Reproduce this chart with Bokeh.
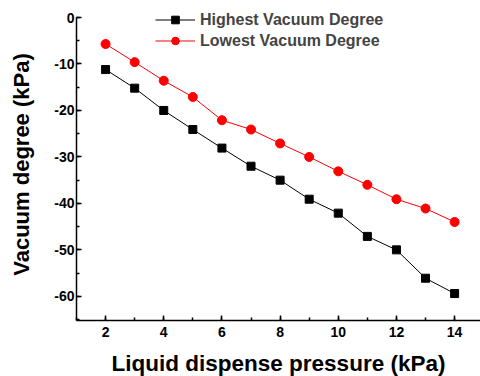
from bokeh.plotting import figure
from bokeh.models import (ColumnDataSource, SingleIntervalTicker, Legend, LegendItem,
                          Range1d, PrintfTickFormatter)
from bokeh.embed import file_html
from bokeh.resources import INLINE

pressure = [2, 3, 4, 5, 6, 7, 8, 9, 10, 11, 12, 13, 14]
highest = [-11.2, -15.2, -20.0, -24.1, -28.1, -32.0, -35.0, -39.1, -42.1, -47.1, -50.0, -56.1, -59.4]
lowest = [-5.7, -9.6, -13.6, -17.1, -22.1, -24.1, -27.1, -30.0, -33.1, -36.0, -39.1, -41.1, -44.0]
series_names = ["Highest Vacuum Degree", "Lowest Vacuum Degree"]
x_title = "Liquid dispense pressure (kPa)"
y_title = "Vacuum degree (kPa)"

src = ColumnDataSource(dict(x=pressure, hi=highest, lo=lowest))

FONT = "Liberation Sans"

p = figure(frame_width=404, frame_height=312, output_backend="svg", toolbar_location=None,
           x_range=Range1d(1, 14.89), y_range=Range1d(-65.2, 1.94),
           min_border_left=76, min_border_top=8, min_border_right=0, min_border_bottom=10)
p.outline_line_color = None
p.xgrid.visible = False
p.ygrid.visible = False

l1 = p.line("x", "hi", source=src, line_color="black", line_width=1)
m1 = p.scatter("x", "hi", source=src, marker="square", size=8, fill_color="black", line_color="black")
l2 = p.line("x", "lo", source=src, line_color="#ff0000", line_width=1)
m2 = p.scatter("x", "lo", source=src, marker="circle", size=9, fill_color="#ff0000", line_color="#ff0000")

for ax in (p.xaxis[0], p.yaxis[0]):
    ax.axis_line_width = 1.5
    ax.major_tick_in = 5
    ax.major_tick_out = 0
    ax.minor_tick_in = 3
    ax.minor_tick_out = 0
    ax.major_tick_line_width = 1.5
    ax.minor_tick_line_width = 1.5
    ax.major_label_text_font = FONT
    ax.major_label_text_font_style = "bold"
    ax.major_label_text_font_size = "14px"
    ax.major_label_text_color = "black"
    ax.axis_label_text_font = FONT
    ax.axis_label_text_font_style = "bold"
    ax.axis_label_text_color = "black"
    ax.formatter = PrintfTickFormatter(format="%d")

p.yaxis[0].bounds = (-65.2, 0)
p.xaxis[0].axis_label_text_font_size = "22.5px"
p.yaxis[0].axis_label_text_font_size = "22px"
p.xaxis[0].ticker = SingleIntervalTicker(interval=2, num_minor_ticks=2)
p.yaxis[0].ticker = SingleIntervalTicker(interval=10, num_minor_ticks=2)
p.xaxis[0].axis_label = x_title
p.yaxis[0].axis_label = y_title
p.xaxis[0].major_label_standoff = 6
p.yaxis[0].major_label_standoff = 2
p.xaxis[0].axis_label_standoff = 11
p.yaxis[0].axis_label_standoff = 17

legend = Legend(items=[LegendItem(label=series_names[0], renderers=[l1, m1]),
                       LegendItem(label=series_names[1], renderers=[l2, m2])],
                location=(79, 270), border_line_color=None, background_fill_alpha=0,
                padding=0, margin=0, spacing=2, glyph_width=40, glyph_height=19,
                label_height=19, label_standoff=5,
                label_text_font=FONT, label_text_font_style="bold", label_text_font_size="16px")
p.add_layout(legend, "center")

open("out.html", "w").write(file_html(p, INLINE))
